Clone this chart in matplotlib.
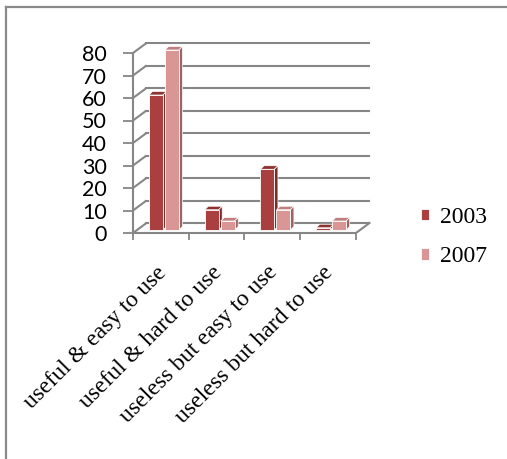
import matplotlib
matplotlib.use("Agg")
import matplotlib.pyplot as plt
from matplotlib.patches import Polygon
from matplotlib.lines import Line2D
from matplotlib.transforms import ScaledTranslation

categories = ["useful & easy to use", "useful & hard to use",
              "useless but easy to use", "useless but hard to use"]
series_names = ["2003", "2007"]
values_2003 = [60, 9, 27, 1]
values_2007 = [80, 4, 9, 4]
y_ticks = [0, 10, 20, 30, 40, 50, 60, 70, 80]

front = ["#A9403F", "#D99695"]
top = ["#8C3331", "#BF7F7E"]
side = ["#7A2B2A", "#9E6463"]
grid = "#868686"

DX, DY = 0.242, 4.44      # depth of the plot box (data units)
BX, BY = 0.063, 1.56      # depth of a bar
T = 0.3                   # bars sit this far back in the box
W = 0.25
OFFS = [0.287 - T * DX, 0.574 - T * DX]

fig = plt.figure(figsize=(5.07, 4.59), dpi=100)
ax = fig.add_axes([133 / 507, 1 - 233 / 459, 239.7 / 507, 193.5 / 459])
ax.set_xlim(0, 4.3)
ax.set_ylim(0, 86)
ax.patch.set_visible(False)

# walls: diagonals on the side wall, gridlines on the back wall
for v in y_ticks:
    ax.plot([0, DX], [v, v + DY], color=grid, lw=1.5, solid_capstyle="butt", zorder=1)
    ax.plot([DX, len(categories) + DX], [v + DY, v + DY], color=grid, lw=1.5, zorder=1)
ax.plot([len(categories), len(categories) + DX], [0, DY], color=grid, lw=1.5, zorder=1)

for spine in ["top", "right"]:
    ax.spines[spine].set_visible(False)
ax.spines["left"].set_bounds(0, 80)
ax.spines["bottom"].set_bounds(0, len(categories))
for spine in ["left", "bottom"]:
    ax.spines[spine].set_color(grid)
    ax.spines[spine].set_linewidth(1.5)

ax.set_yticks(y_ticks)
ax.set_yticklabels([str(v) for v in y_ticks], family="Lato", fontsize=15.5)
ax.tick_params(axis="y", length=7, width=1.3, color=grid, pad=12)
ax.set_xticks(range(len(categories) + 1))
ax.set_xticklabels([])
ax.tick_params(axis="x", length=5, width=1.3, color=grid)

b0 = T * DY
handles = []
for j, vals in enumerate([values_2003, values_2007]):
    xs = [i + OFFS[j] + T * DX for i in range(len(categories))]
    bars = ax.bar(xs, vals, W, bottom=b0, align="edge", color=front[j],
                  edgecolor="white", linewidth=0.6, zorder=3 + 2 * j, label=series_names[j])
    handles.append(bars)
    for x, h in zip(xs, vals):
        yt = b0 + h
        ax.add_patch(Polygon([(x, yt), (x + W, yt), (x + W + BX, yt + BY), (x + BX, yt + BY)],
                             closed=True, facecolor=top[j], edgecolor="white",
                             linewidth=0.5, zorder=2 + 2 * j))
        ax.add_patch(Polygon([(x + W, b0), (x + W + BX, b0 + BY), (x + W + BX, yt + BY), (x + W, yt)],
                             closed=True, facecolor=side[j], edgecolor="white",
                             linewidth=0.5, zorder=2 + 2 * j))

shift = ScaledTranslation(-5.5 / 100, -29 / 100, fig.dpi_scale_trans)
for i, name in enumerate(categories):
    ax.text(i + 0.5, 0, name, rotation=45, ha="right", va="top", rotation_mode="anchor",
            transform=ax.transData + shift, family="Liberation Serif", fontsize=17)

fig.legend(handles=handles, labels=series_names, loc="center left",
           bbox_to_anchor=(421 / 507, 1 - 237 / 459), frameon=False,
           prop={"family": "Liberation Serif", "size": 17},
           handlelength=0.35, handleheight=0.35, handletextpad=0.45,
           labelspacing=0.8, borderpad=0, borderaxespad=0)

# chart border (left and top edges only are visible)
fig.add_artist(Line2D([6 / 507, 6 / 507], [0, 1 - 7 / 459], color="#8a8a8a", lw=1.6))
fig.add_artist(Line2D([6 / 507, 1], [1 - 7 / 459, 1 - 7 / 459], color="#8a8a8a", lw=1.6))

fig.savefig("out.png", dpi=100)
